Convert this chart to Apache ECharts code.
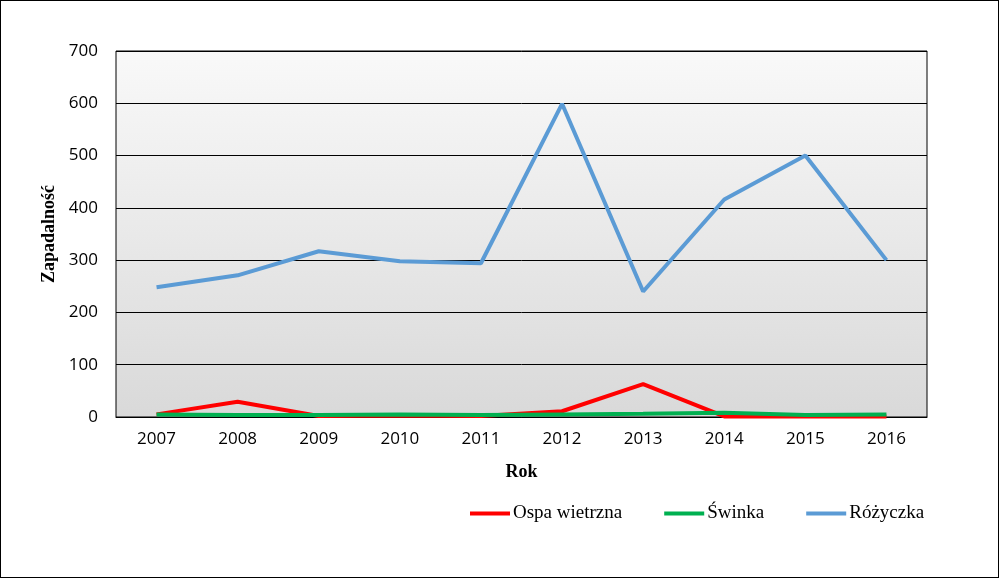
<!DOCTYPE html>
<html><head><meta charset="utf-8">
<script src="https://cdn.jsdelivr.net/npm/echarts@6/dist/echarts.min.js"></script>
<style>
html,body{margin:0;padding:0;background:#fff;}
#c{width:999px;height:578px;box-sizing:border-box;border:1px solid #000;}
</style></head>
<body><div id="c"></div>
<script>
const years = ['2007','2008','2009','2010','2011','2012','2013','2014','2015','2016'];
const ospa = [5, 29, 2, 3, 2, 11, 63, 1, 1, 1];
const swinka = [5, 4, 4, 5, 4, 5, 6, 8, 4, 5];
const rozyczka = [248, 271, 317, 298, 294, 599, 240, 416, 500, 300];
const yTicks = [0, 100, 200, 300, 400, 500, 600, 700];

const chart = echarts.init(document.getElementById('c'));
chart.setOption({
  animation: false,
  backgroundColor: '#fff',
  grid: {
    left: 115, right: 71, top: 50, bottom: 160,
    show: true,
    borderColor: '#000', borderWidth: 1,
    backgroundColor: new echarts.graphic.LinearGradient(0, 0, 0, 1, [
      {offset: 0, color: '#f9f9f9'}, {offset: 1, color: '#d9d9d9'}
    ])
  },
  xAxis: {
    type: 'category', data: years, boundaryGap: true,
    name: 'Rok', nameLocation: 'middle', nameGap: 46,
    nameTextStyle: {fontFamily: 'Liberation Serif', fontWeight: 'bold', fontSize: 18, color: '#000'},
    axisLine: {lineStyle: {color: '#000', width: 1}},
    axisTick: {show: false},
    axisLabel: {fontFamily: 'Open Sans', fontSize: 17, color: '#000', margin: 14}
  },
  yAxis: {
    type: 'value', min: 0, max: 700, interval: 100,
    name: 'Zapadalność', nameLocation: 'middle', nameGap: 55,
    nameTextStyle: {fontFamily: 'Liberation Serif', fontWeight: 'bold', fontSize: 18, color: '#000'},
    axisLine: {show: false}, axisTick: {show: false},
    splitLine: {lineStyle: {color: '#000', width: 1}},
    axisLabel: {fontFamily: 'Open Sans', fontSize: 17, color: '#000', margin: 18,
      formatter: v => yTicks.includes(v) ? String(v) : ''}
  },
  legend: {
    left: 469, top: 503, padding: 0, itemWidth: 40, itemHeight: 4, itemGap: 42,
    icon: 'rect',
    textStyle: {fontFamily: 'Liberation Serif', fontSize: 19, color: '#000', padding: [0,0,0,-2]},
    data: ['Ospa wietrzna', 'Świnka', 'Różyczka']
  },
  series: [
    {name: 'Ospa wietrzna', type: 'line', data: ospa, symbol: 'none',
     lineStyle: {color: '#ff0000', width: 4}, itemStyle: {color: '#ff0000'}},
    {name: 'Świnka', type: 'line', data: swinka, symbol: 'none',
     lineStyle: {color: '#00b050', width: 4}, itemStyle: {color: '#00b050'}},
    {name: 'Różyczka', type: 'line', data: rozyczka, symbol: 'none',
     lineStyle: {color: '#5b9bd5', width: 4}, itemStyle: {color: '#5b9bd5'}}
  ]
});
</script></body></html>
